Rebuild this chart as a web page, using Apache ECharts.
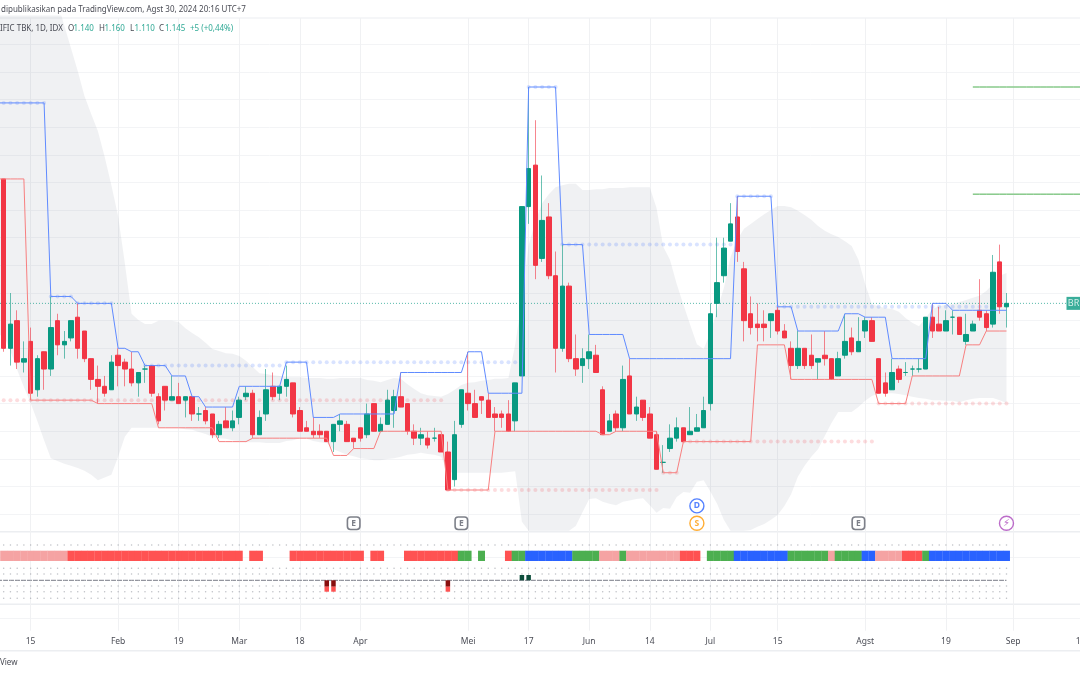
<!DOCTYPE html>
<html>
<head>
<meta charset="utf-8">
<style>html,body{margin:0;padding:0;background:#fff}#chart{width:1080px;height:675px}</style>
<script src="https://cdn.jsdelivr.net/npm/echarts@6/dist/echarts.min.js"></script>
</head>
<body>
<div id="chart"></div>
<script>
// daily candles (bar 0 is the leftmost one)
var opens = [
  1325,1080,1120,1060,1090,1020,1075,1050,1120,1085, 1095,1125,1105,1065,1035,1025,1020,1070,1060,1050,
  1030,1050,1055,1010,1025,1005,1010,1005,1010,985, 990,985,955,975,965,980,1010,1015,955,985,
  1025,1015,1025,1030,990,965,960,960,960,945, 970,970,950,965,955,1000,960,970,990,1010,
  1000,960,950,950,950,955,930,890,970,1015, 1000,1010,1005,985,985,985,975,1040,1285,1345,
  1210,1270,1185,1080,1170,1065,1055,1065,1070,1020, 960,985,965,1040,985,1005,985,955,915,935,
  950,965,955,960,965,1000,1145,1185,1235,1270, 1195,1130,1115,1115,1120,1135,1105,1080,1055,1080,
  1070,1060,1070,1065,1040,1070,1095,1075,1105,1120, 1065,1030,1020,1050,1045,1050,1050,1050,1125,1115,
  1105,1125,1125,1090,1105,1135,1130,1115,1205,1140
];
var highs = [
  1325,1160,1135,1090,1110,1070,1075,1155,1130,1105, 1120,1145,1105,1065,1055,1040,1070,1080,1065,1075,
  1045,1055,1055,1015,1025,1040,1030,1010,1010,995, 995,985,975,995,990,1010,1025,1020,990,1050,
  1045,1025,1055,1030,995,975,980,970,960,970, 985,975,950,965,1000,1000,980,1020,1020,1045,
  1000,970,965,960,965,955,945,975,1020,1075, 1020,1010,1015,995,990,1005,1030,1285,1458,1410,
  1330,1290,1220,1230,1175,1100,1080,1100,1085,1025, 985,990,1055,1065,1010,1005,995,960,940,970,
  980,965,995,985,1010,1145,1240,1240,1290,1300, 1205,1155,1145,1135,1130,1140,1115,1090,1105,1080,
  1100,1065,1105,1065,1075,1130,1110,1125,1125,1125, 1065,1045,1065,1055,1060,1055,1065,1125,1145,1140,
  1135,1135,1125,1130,1120,1180,1135,1215,1230,1160
];
var lows = [
  1075,1055,1050,1045,1005,1010,1020,1040,1070,1065, 1090,1065,1060,1020,1000,1010,1020,1025,1025,1025,
  1010,1030,1010,970,990,1005,1000,980,975,975, 970,950,950,965,960,970,1005,950,955,975,
  1005,1005,1010,980,960,960,950,950,945,930, 960,945,935,945,950,960,960,970,965,995,
  955,940,940,935,945,930,875,880,965,990, 980,985,980,960,965,960,960,1040,1260,1180,
  1205,1180,1045,1075,1060,1040,1030,1050,1045,955, 960,960,960,985,975,975,950,905,900,930,
  945,945,955,960,965,990,1125,1175,1235,1205, 1090,1100,1090,1090,1095,1100,1095,1035,1050,1050,
  1050,1035,1055,1035,1040,1065,1070,1075,1095,1090, 1015,1010,1020,1030,1040,1040,1045,1050,1095,1105,
  1105,1100,1100,1085,1105,1120,1105,1110,1130,1110
];
var closes = [
  1080,1115,1060,1065,1015,1065,1050,1110,1085,1090, 1120,1080,1065,1035,1025,1015,1060,1055,1050,1030,
  1045,1050,1015,975,1005,1010,1000,1010,985,985, 975,955,970,965,975,1005,1015,955,980,1020,
  1010,1025,1035,985,960,960,955,955,945,970, 975,945,945,950,985,960,970,1005,1010,995,
  960,950,955,940,950,930,875,955,1020,1000, 980,1005,980,980,980,960,1030,1285,1340,1200,
  1265,1185,1080,1170,1065,1050,1065,1075,1045,955, 975,965,1035,985,995,980,950,905,915,950,
  965,945,960,965,990,1130,1175,1225,1260,1220, 1120,1110,1110,1110,1130,1105,1095,1055,1080,1055,
  1055,1065,1065,1035,1065,1090,1075,1090,1120,1090, 1015,1015,1045,1035,1045,1050,1050,1125,1105,1105,
  1120,1125,1100,1100,1115,1125,1110,1190,1140,1145
];

// resistance and support steps
var upperSteps = [
  1435,1435,1435,1435,1435,1435,1435,1155,1155,1155, 1155,1145,1145,1145,1145,1145,1145,1080,1080,1075,
  1075,1055,1055,1055,1055,1040,1040,1040,1010,1010, 995,995,995,995,995,1025,1025,1025,1025,1025,
  1025,1025,1060,1060,1060,1060,980,980,980,980, 985,985,985,985,985,985,985,985,985,1045,
  1045,1045,1045,1045,1045,1045,1045,1045,1045,1075, 1075,1075,1015,1015,1015,1015,1015,1015,1458,1458,
  1458,1458,1458,1230,1230,1230,1230,1100,1100,1100, 1100,1100,1100,1065,1065,1065,1065,1065,1065,1065,
  1065,1065,1065,1065,1065,1065,1065,1065,1065,1300, 1300,1300,1300,1300,1300,1140,1140,1140,1105,1105,
  1105,1105,1105,1105,1105,1130,1130,1130,1125,1125, 1125,1125,1065,1065,1065,1065,1065,1065,1145,1145,
  1145,1135,1135,1135,1135,1135,1135,1135,1135,1135
];
var lowerSteps = [
  1325,1325,1325,1325,1005,1005,1005,1005,1005,1005, 1005,1005,1005,1005,1000,1000,1000,1000,1000,1000,
  1000,1000,1000,965,965,965,965,965,965,965, 965,965,945,945,945,945,945,950,950,950,
  950,950,950,950,950,950,950,950,950,925, 925,925,935,935,935,935,960,960,960,960,
  960,960,960,960,960,960,875,875,875,875, 875,875,875,960,960,960,960,960,960,960,
  960,960,960,960,960,960,960,960,960,955, 955,960,960,960,960,960,960,960,900,900,
  900,945,945,945,945,945,945,945,945,945, 945,945,1085,1085,1085,1085,1085,1035,1035,1035,
  1035,1035,1035,1035,1035,1035,1035,1035,1035,1035, 1000,1000,1000,1000,1000,1040,1040,1040,1040,1040,
  1040,1040,1040,1085,1085,1085,1105,1105,1105,1105
];

// grey band, top and bottom edge (cut by the pane on both ends)
var bandTop = [
  1600,1600,1600,1600,1600,1600,1600,1600,1580,1547, 1514,1481,1445,1419,1394,1357,1316,1271,1203,1130,
  1121,1115,1115,1120,1120,1120,1118,1109,1102,1096, 1088,1079,1076,1073,1072,1069,1062,1053,1044,1043,
  1041,1040,1038,1038,1038,1037,1037,1037,1036,1036, 1037,1037,1037,1037,1034,1033,1031,1034,1037,1036,
  1028,1021,1015,1012,1011,1010,1014,1020,1027,1030, 1031,1033,1034,1036,1036,1037,1085,1150,1229,1263,
  1290,1303,1313,1316,1318,1318,1309,1309,1310,1310, 1312,1312,1312,1313,1313,1313,1313,1283,1227,1208,
  1173,1143,1114,1086,1079,1102,1135,1167,1212,1237, 1253,1260,1267,1274,1280,1286,1286,1284,1279,1273,
  1266,1257,1250,1245,1241,1235,1228,1208,1173,1144, 1141,1138,1137,1133,1124,1117,1112,1124,1137,1141,
  1143,1144,1147,1150,1153,1156,1163,1173,1185,1189
];
var bandBottom = [
  1099,1076,1049,1024,1001,975,947,921,917,913, 910,907,903,897,889,893,897,923,952,965,
  965,965,965,965,965,965,965,963,962,959, 956,952,950,949,947,946,944,944,944,943,
  943,943,946,947,950,949,946,944,943,934, 930,926,924,921,920,918,918,920,921,923,
  926,927,929,927,926,923,901,900,900,900, 900,900,900,900,900,901,902,829,816,816,
  816,816,816,816,816,823,843,862,863,858, 855,853,858,860,862,863,853,842,849,848,
  865,872,871,887,889,873,855,832,816,816, 816,817,822,826,832,839,852,869,894,910,
  923,934,953,972,988,988,988,995,1004,1011, 1015,1015,1015,1014,1012,1010,1008,1007,1005,1005,
  1004,1004,1002,1005,1007,1008,1008,1008,1005,1001
];

// pivot levels that keep running as pale dots: first bar, last bar, price
var blueDotRuns = [[0,6,1435],[7,10,1155],[11,16,1145],[21,41,1055],[42,76,1060],[78,82,1458],[83,108,1230],[109,114,1300],[115,146,1140]];
var redDotRuns = [[0,65,1005],[66,97,875],[98,100,900],[101,129,945],[130,149,1000]];

var targetLevels = [1458, 1303];
var targetFrom = 144;
var lastClose = 1145;
var lastLineEnd = 158;

// bar state strip under the chart, one letter per bar, "N" = nothing drawn
var stripStates = (
  'PPPPPPPPPP RRRRRRRRRR RRRRRRRRRR RRRRRRNRRN NNNRRRRRRR RRRRNRRNNN RRRRRRRRGG NGNNNRGGBB ' +
  'BBBBBGGGGP PPGPPPPPPP PRRRNGGGGB BBBBBBBGGG GGGPGGGGBB PPPPRRRGBB BBBBBBBBBB'
).replace(/ /g, '').split('');
var stripColors = { P: '#f5a3a3', R: '#ff5252', G: '#4caf50', B: '#2962ff' };

// oscillator pane
var oscUpBars = [77, 78];
var oscDownBars = [48, 49, 66];
var oscDotRows = [35.3, 12, 6.3, -5.7, -11.4, -18];

// earnings, dividend, split and news flags
var eventBars = [52, 68, 103, 103, 127, 149];
var eventPrices = [827, 827, 852, 827, 827, 827];
var eventTexts = ['E', 'E', 'D', 'S', 'E', '\u26A1\uFE0E'];
var eventColors = ['#5d606b', '#5d606b', '#2962ff', '#ff9800', '#5d606b', '#ab47bc'];

// time scale
var tickBars = [4, 17, 26, 35, 44, 53, 69, 78, 87, 96, 105, 115, 128, 140, 150, 160];
var tickLabels = ['15', 'Feb', '19', 'Mar', '18', 'Apr', 'Mei', '17', 'Jun', '14', 'Jul', '15', 'Agst', '19', 'Sep', '16'];

// legend row: text, left edge, colour
var legendTexts = ['IFIC TBK, 1D, IDX', 'O', '1.140', 'H', '1.160', 'L', '1.110', 'C', '1.145', '+5 (+0,44%)'];
var legendLeft = [0, 68, 73.5, 99, 104.5, 130, 134.5, 159, 165, 190];

var UP = '#089981', DOWN = '#f23645', INK = '#4a4c55';
var barCount = 163;   // one lead slot, 150 candles, then empty space on the right
var font = 'Noto Sans';
var smallFont = '8px "Noto Sans"';

var categories = [];
for (var n = 0; n < barCount; n++) categories.push(String(n - 1));

function lead(list) { return [list[0]].concat(list); }

function dotsFromRuns(runs) {
  var out = [];
  runs.forEach(function (r) {
    for (var k = r[0]; k <= r[1]; k++) out.push([k + 1, r[2]]);
  });
  return out;
}

var wickData = [['-', '-', '-', '-']], bodyData = [['-', '-', '-', '-']];
opens.forEach(function (o, i) {
  var c = closes[i];
  wickData.push([o, c, lows[i], highs[i]]);
  bodyData.push([o, c, Math.min(o, c), Math.max(o, c)]);
});

var bandSpan = bandTop.map(function (v, i) { return v - bandBottom[i]; });

var lastLine = [], targetLines = targetLevels.map(function () { return []; });
for (n = 0; n < barCount; n++) {
  lastLine.push(n - 1 <= lastLineEnd ? lastClose : null);
  targetLines.forEach(function (t, idx) { t.push(n - 1 >= targetFrom ? targetLevels[idx] : null); });
}

var stripData = [null], oscUp = [], oscDark = [], oscLight = [], oscDots = [], oscZero = [0];
stripStates.forEach(function (s) {
  stripData.push(s === 'N' ? null : { value: 1, itemStyle: { color: stripColors[s] } });
  oscZero.push(0);
});
oscUpBars.forEach(function (k) { oscUp.push([k + 1, 5.3]); });
oscDownBars.forEach(function (k) { oscDark.push([k + 1, -6.4]); oscLight.push([k + 1, -5]); });
oscDotRows.forEach(function (r) {
  for (var k = 0; k < 150; k++) oscDots.push([k + 1, r]);
});

var eventData = eventBars.map(function (k, i) {
  var isBox = eventTexts[i] === 'E';
  return {
    value: [k + 1, eventPrices[i]],
    symbol: isBox ? 'roundRect' : 'circle',
    symbolSize: isBox ? 12.5 : 14,
    itemStyle: { color: '#fff', borderColor: eventColors[i], borderWidth: isBox ? 1.6 : 1.4 },
    label: { show: true, formatter: eventTexts[i], color: eventColors[i], fontFamily: i === 5 ? 'DejaVu Sans' : font, fontSize: i === 5 ? 10 : 8.5, fontWeight: 'bold' }
  };
});

function xAxisFor(gridIndex, shown) {
  return {
    type: 'category', gridIndex: gridIndex, data: categories, boundaryGap: false, show: shown,
    axisLine: { show: false }, axisTick: { show: false },
    splitLine: { show: shown, lineStyle: { color: '#f0f1f3', width: 1 }, interval: function (i) { return tickBars.indexOf(i - 1) >= 0; } },
    axisLabel: {
      show: shown, color: INK, fontFamily: font, fontSize: 8.5, margin: 6,
      interval: function (i) { return tickBars.indexOf(i - 1) >= 0; },
      formatter: function (v, i) { return tickLabels[tickBars.indexOf(i - 1)] || ''; }
    }
  };
}

var leftEdge = -3.03, fullWidth = 6.73 * (barCount - 1);
var myChart = echarts.init(document.getElementById('chart'), null, { renderer: 'canvas' });

var graphics = [
  // pane separators and the faint pane grid
  { type: 'rect', shape: { x: 0, y: 17.5, width: 1080, height: 1 }, style: { fill: '#eceef1' }, silent: true, z: 0 },
  { type: 'rect', shape: { x: 0, y: 531, width: 1080, height: 1.5 }, style: { fill: '#eceef1' }, silent: true, z: 0 },
  { type: 'rect', shape: { x: 0, y: 557, width: 1080, height: 1 }, style: { fill: '#f3f4f6' }, silent: true, z: 0 },
  { type: 'rect', shape: { x: 0, y: 603.5, width: 1080, height: 1.5 }, style: { fill: '#eceef1' }, silent: true, z: 0 },
  { type: 'rect', shape: { x: 0, y: 618, width: 1080, height: 1 }, style: { fill: '#f3f4f6' }, silent: true, z: 0 },
  { type: 'rect', shape: { x: 0, y: 650, width: 1080, height: 1.5 }, style: { fill: '#eceef1' }, silent: true, z: 0 },
  { type: 'text', x: 1, y: 6, silent: true, z: 20,
    style: { text: 'dipublikasikan pada TradingView.com, Agst 30, 2024 20:16 UTC+7', fill: INK, font: smallFont } },
  { type: 'text', x: 0, y: 659, silent: true, z: 20,
    style: { text: 'View', fill: INK, font: smallFont } }
];
legendTexts.forEach(function (t, i) {
  var ink = i === 0 || i % 2 === 1 && i < 9;
  graphics.push({ type: 'text', x: legendLeft[i], y: 24.5, silent: true, z: 20,
    style: { text: t, fill: ink ? INK : UP, font: smallFont, opacity: ink ? 1 : 0.85 } });
});

var gridBase = { left: leftEdge, width: fullWidth, outerBoundsMode: 'none', containLabel: false };
function gridAt(top, height) {
  return Object.assign({}, gridBase, { top: top, height: height });
}

var option = {
  animation: false,
  backgroundColor: '#fff',
  textStyle: { fontFamily: font },
  grid: [gridAt(16.5, 525.35), gridAt(550.7, 10.3), gridAt(531.7, 72.6), gridAt(18, 612.7)],
  xAxis: [xAxisFor(0, false), xAxisFor(1, false), xAxisFor(2, false), xAxisFor(3, true)],
  yAxis: [
    {
      type: 'value', gridIndex: 0, min: 800, max: 1560, interval: 40,
      axisLine: { show: false }, axisTick: { show: false }, axisLabel: { show: false },
      splitLine: { show: true, showMinLine: false, showMaxLine: false, lineStyle: { color: '#f3f4f6', width: 1 } }
    },
    { type: 'value', gridIndex: 1, min: 0, max: 1, show: false, splitLine: { show: false } },
    { type: 'value', gridIndex: 2, min: -24, max: 48.6, show: false, splitLine: { show: false } },
    { type: 'value', gridIndex: 3, min: 0, max: 1, show: false, splitLine: { show: false } }
  ],
  series: [
    { type: 'line', xAxisIndex: 0, yAxisIndex: 0, stack: 'band', data: lead(bandBottom), showSymbol: false, silent: true, lineStyle: { opacity: 0 }, z: 1 },
    { type: 'line', xAxisIndex: 0, yAxisIndex: 0, stack: 'band', data: lead(bandSpan), showSymbol: false, silent: true, lineStyle: { opacity: 0 }, areaStyle: { color: 'rgba(120,125,145,0.11)', opacity: 1 }, z: 1 },

    { type: 'line', xAxisIndex: 0, yAxisIndex: 0, data: lastLine, showSymbol: false, silent: true, lineStyle: { color: '#089981', width: 1, type: [1, 2], opacity: 0.7 }, z: 2 },

    { type: 'scatter', xAxisIndex: 0, yAxisIndex: 0, data: dotsFromRuns(blueDotRuns), symbolSize: 4, itemStyle: { color: 'rgba(41,98,255,0.22)' }, silent: true, z: 2 },
    { type: 'scatter', xAxisIndex: 0, yAxisIndex: 0, data: dotsFromRuns(redDotRuns), symbolSize: 4, itemStyle: { color: 'rgba(242,54,69,0.22)' }, silent: true, z: 2 },

    {
      type: 'candlestick', xAxisIndex: 0, yAxisIndex: 0, data: wickData, barWidth: 1, z: 3,
      itemStyle: { color: 'rgba(8,153,129,0.6)', color0: 'rgba(242,54,69,0.6)', borderColor: 'rgba(8,153,129,0.6)', borderColor0: 'rgba(242,54,69,0.6)', borderWidth: 1 }
    },
    {
      type: 'candlestick', xAxisIndex: 0, yAxisIndex: 0, data: bodyData, barWidth: 5, z: 3,
      itemStyle: { color: UP, color0: DOWN, borderColor: UP, borderColor0: DOWN, borderWidth: 1 }
    },

    { type: 'line', xAxisIndex: 0, yAxisIndex: 0, data: lead(lowerSteps), showSymbol: false, silent: true, lineStyle: { color: '#f77f7f', width: 1 }, z: 4 },
    { type: 'line', xAxisIndex: 0, yAxisIndex: 0, data: lead(upperSteps), showSymbol: false, silent: true, lineStyle: { color: '#5f8aff', width: 1 }, z: 4 },

    { type: 'line', xAxisIndex: 0, yAxisIndex: 0, data: targetLines[0], showSymbol: false, silent: true, lineStyle: { color: '#4caf50', width: 1 }, z: 4 },
    { type: 'line', xAxisIndex: 0, yAxisIndex: 0, data: targetLines[1], showSymbol: false, silent: true, lineStyle: { color: '#4caf50', width: 1 }, z: 4 },

    { type: 'scatter', xAxisIndex: 0, yAxisIndex: 0, data: eventData, silent: true, z: 5 },

    { type: 'scatter', xAxisIndex: 0, yAxisIndex: 0, data: [[161, lastClose]], symbol: 'rect', symbolSize: [28, 13], itemStyle: { color: '#089981' }, silent: true, z: 6,
      label: { show: true, formatter: 'BR', color: '#fff', fontFamily: font, fontSize: 9, position: 'inside', offset: [-7, 0] } },

    { type: 'bar', xAxisIndex: 1, yAxisIndex: 1, data: stripData, barWidth: 7, silent: true, z: 3 },

    { type: 'scatter', xAxisIndex: 2, yAxisIndex: 2, data: oscDots, symbolSize: 1.5, itemStyle: { color: 'rgba(120,123,134,0.6)' }, silent: true, z: 2 },
    { type: 'line', xAxisIndex: 2, yAxisIndex: 2, data: oscZero, showSymbol: false, silent: true, lineStyle: { color: '#787b86', width: 1, type: [5, 1] }, z: 3 },
    { type: 'bar', xAxisIndex: 2, yAxisIndex: 2, stack: 'osc', data: oscUp, barWidth: 4.5, itemStyle: { color: '#0d4d3b' }, silent: true, z: 4 },
    { type: 'bar', xAxisIndex: 2, yAxisIndex: 2, stack: 'osc', data: oscDark, barWidth: 4.5, itemStyle: { color: '#880e0e' }, silent: true, z: 4 },
    { type: 'bar', xAxisIndex: 2, yAxisIndex: 2, stack: 'osc', data: oscLight, barWidth: 4.5, itemStyle: { color: '#ff5252' }, silent: true, z: 4 }
  ],
  graphic: graphics
};

myChart.setOption(option);
</script>
</body>
</html>
